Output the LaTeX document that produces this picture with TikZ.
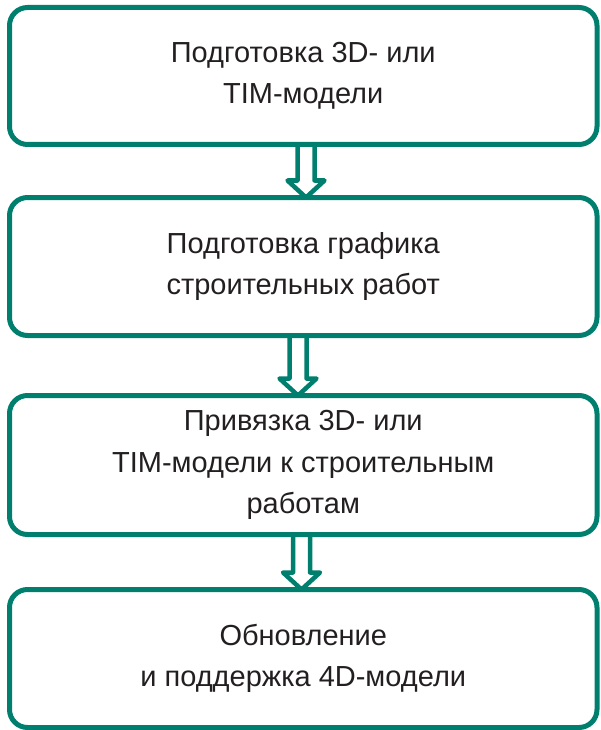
\documentclass[tikz,border=0pt]{standalone}
\usepackage{fontspec}
\setmainfont{Liberation Sans}
\usetikzlibrary{calc}

\definecolor{stageteal}{RGB}{0,127,110}
\definecolor{stagetext}{RGB}{35,31,32}

\tikzset{
	stage/.style={draw=stageteal, line width=5pt, rounded corners=18pt,
		minimum width=587.5pt, inner sep=0pt, outer sep=0pt, align=center,
		text=stagetext, font=\fontsize{29}{41.5}\selectfont},
	flow/.style={draw=stageteal, line width=4.5pt, line join=round}
}

% hollow arrow from one stage to the next: from, to, x offset
\newcommand{\hollowarrow}[3]{%
	\draw[flow] let \p1=(#1.south), \p2=(#2.north), \n1={\x1+#3} in
		({\n1-8.5pt},\y1) -- ({\n1-8.5pt},{\y2+17pt}) -- ({\n1-18.5pt},{\y2+17pt})
		-- (\n1,\y2)
		-- ({\n1+18.5pt},{\y2+17pt}) -- ({\n1+8.5pt},{\y2+17pt}) -- ({\n1+8.5pt},\y1);
}

\begin{document}
\begin{tikzpicture}
	
	\useasboundingbox (0,0) rectangle (600pt,-730pt);
	
	\node[stage, minimum height=137pt] (prep) at (303.25pt,-76pt)
		{Подготовка 3D- или\\TIM-модели};
	\node[stage, minimum height=138pt] (sched) at (303.25pt,-266.5pt)
		{Подготовка графика\\строительных работ};
	\node[stage, minimum height=139pt] (link) at (303.25pt,-465pt)
		{Привязка 3D- или\\TIM-модели к строительным\\работам};
	\node[stage, minimum height=138pt] (upd) at (303.25pt,-658.5pt)
		{Обновление\\и поддержка 4D-модели};
	
	\hollowarrow{prep}{sched}{2.75pt}
	\hollowarrow{sched}{link}{-5.25pt}
	\hollowarrow{link}{upd}{-1.75pt}
	
\end{tikzpicture}
\end{document}
